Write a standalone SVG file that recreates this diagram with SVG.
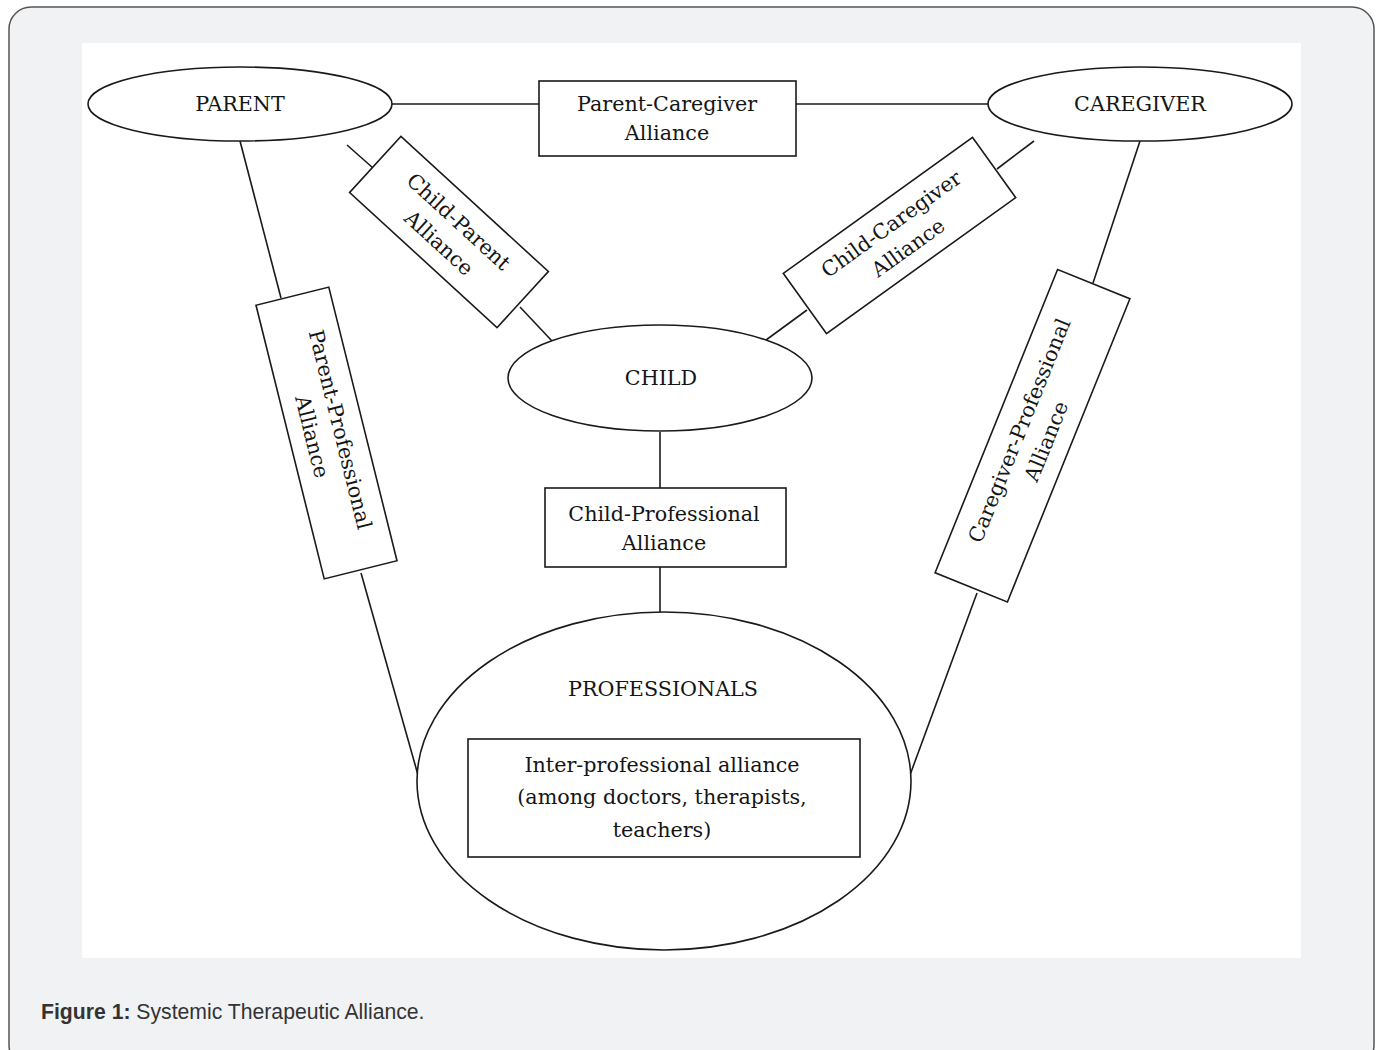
<svg xmlns="http://www.w3.org/2000/svg" width="1380" height="1050" viewBox="0 0 1380 1050">
<style>
.shape{fill:#fff;stroke:#1a1a1a;stroke-width:1.6}
.conn{stroke:#1a1a1a;stroke-width:1.6;fill:none}
.t{font-family:"DejaVu Serif","Liberation Serif",serif;font-size:20.7px;fill:#151515;text-anchor:middle}
.cap{font-family:"Liberation Sans",Arial,sans-serif;font-size:21.2px;fill:#333}
</style>
<rect x="9" y="7" width="1365" height="1060" rx="22" fill="#f1f2f4" stroke="#555" stroke-width="1.5"/>
<rect x="82" y="43" width="1219" height="915" fill="#fff"/>
<g id="connectors">
<line class="conn" x1="392" y1="104" x2="539" y2="104"/>
<line class="conn" x1="796" y1="104" x2="988" y2="104"/>
<line class="conn" x1="347" y1="145" x2="373" y2="168"/>
<line class="conn" x1="520" y1="307" x2="552" y2="341"/>
<line class="conn" x1="1034" y1="141" x2="997" y2="169"/>
<line class="conn" x1="807" y1="310" x2="766" y2="340"/>
<line class="conn" x1="240" y1="141" x2="281" y2="298"/>
<line class="conn" x1="361" y1="573" x2="418" y2="775"/>
<line class="conn" x1="1140" y1="141" x2="1093" y2="283"/>
<line class="conn" x1="977" y1="593" x2="910" y2="775"/>
<line class="conn" x1="660" y1="432" x2="660" y2="488"/>
<line class="conn" x1="660" y1="567" x2="660" y2="612"/>
</g>
<g id="parent">
<ellipse class="shape" cx="240" cy="104" rx="152" ry="37"/>
<text class="t" x="240" y="111">PARENT</text>
</g>
<g id="caregiver">
<ellipse class="shape" cx="1140" cy="104" rx="152" ry="37"/>
<text class="t" x="1140" y="111">CAREGIVER</text>
</g>
<g id="parent-caregiver">
<rect class="shape" x="539" y="81" width="257" height="75"/>
<text class="t" x="667" y="111">Parent-Caregiver</text>
<text class="t" x="667" y="140">Alliance</text>
</g>
<g id="child-parent" transform="translate(449,232) rotate(42.5)">
<rect class="shape" x="-100" y="-38" width="200" height="76"/>
<text class="t" x="0" y="-7">Child-Parent</text>
<text class="t" x="0" y="22">Alliance</text>
</g>
<g id="child-caregiver" transform="translate(899.5,235.5) rotate(-35.7)">
<rect class="shape" x="-116.5" y="-37" width="233" height="74"/>
<text class="t" x="0" y="-7">Child-Caregiver</text>
<text class="t" x="0" y="22">Alliance</text>
</g>
<g id="parent-professional" transform="translate(326.5,433) rotate(76)">
<rect class="shape" x="-141" y="-37.5" width="282" height="75"/>
<text class="t" x="0" y="-7">Parent-Professional</text>
<text class="t" x="0" y="22">Alliance</text>
</g>
<g id="caregiver-professional" transform="translate(1032.5,435.75) rotate(-68)">
<rect class="shape" x="-163.5" y="-39" width="327" height="78"/>
<text class="t" x="0" y="-7">Caregiver-Professional</text>
<text class="t" x="0" y="22">Alliance</text>
</g>
<g id="child">
<ellipse class="shape" cx="660" cy="378" rx="152" ry="53"/>
<text class="t" x="661" y="385">CHILD</text>
</g>
<g id="child-professional">
<rect class="shape" x="545" y="488" width="241" height="79"/>
<text class="t" x="664" y="521">Child-Professional</text>
<text class="t" x="664" y="550">Alliance</text>
</g>
<g id="professionals">
<ellipse class="shape" cx="664" cy="781" rx="247" ry="169"/>
<text class="t" x="663" y="696">PROFESSIONALS</text>
<rect class="shape" x="468" y="739" width="392" height="118"/>
<text class="t" x="662" y="772">Inter-professional alliance</text>
<text class="t" x="662" y="804">(among doctors, therapists,</text>
<text class="t" x="662" y="837">teachers)</text>
</g>
<text class="cap" x="41" y="1019"><tspan font-weight="bold">Figure 1:</tspan> Systemic Therapeutic Alliance.</text>
</svg>
